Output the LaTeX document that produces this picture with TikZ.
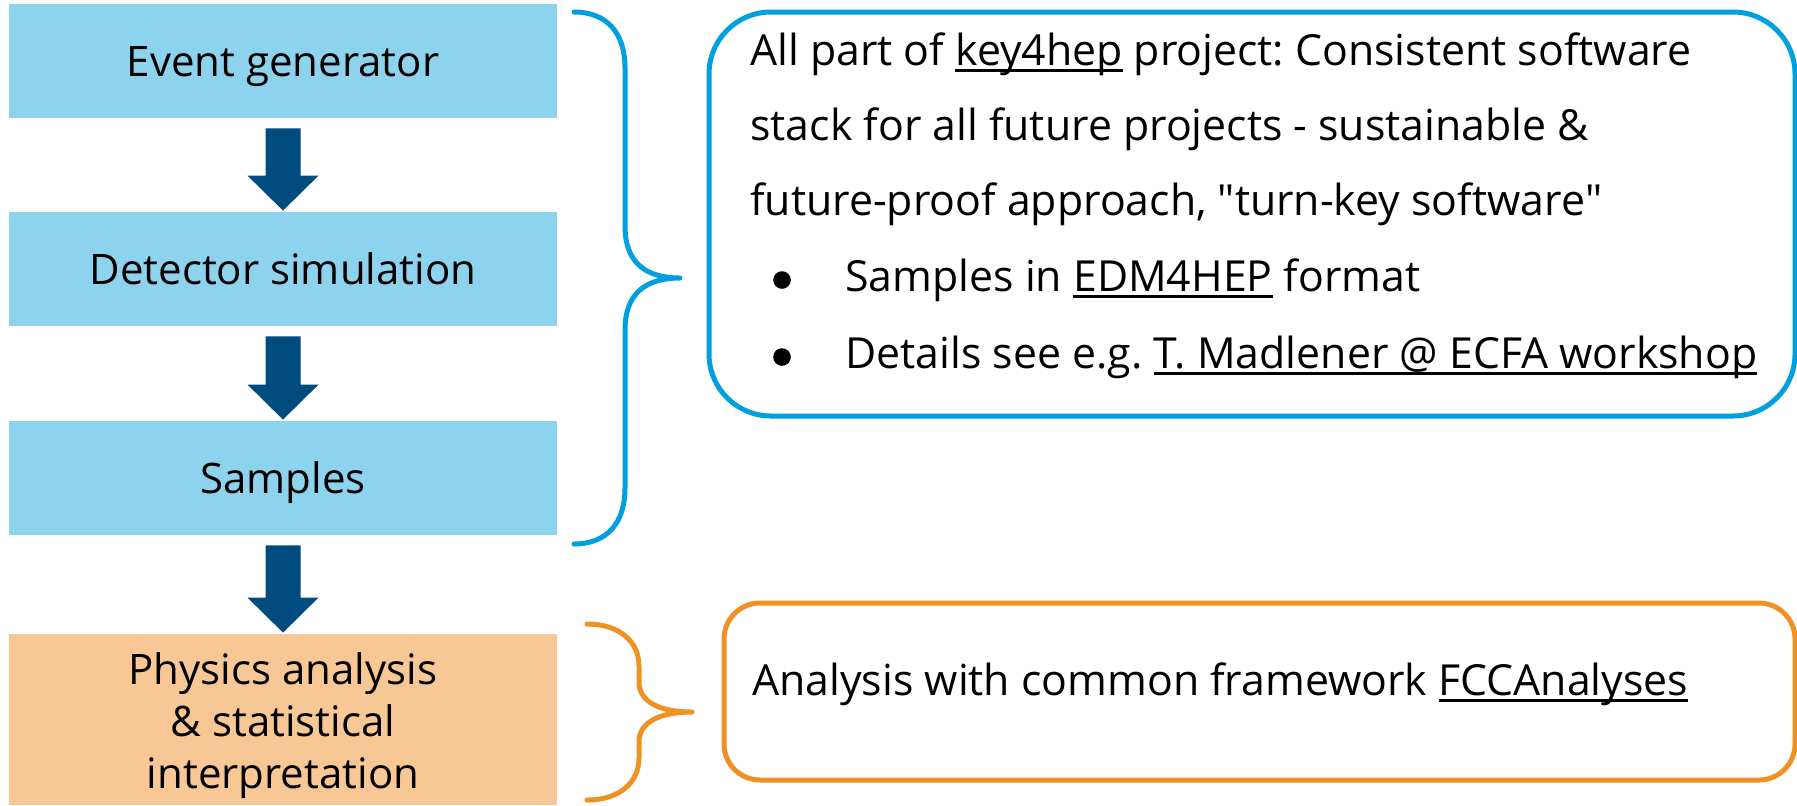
\documentclass[tikz,border=0pt]{standalone}
\usepackage{fontspec}
\setmainfont{Open Sans}
\usetikzlibrary{calc}
\definecolor{boxblue}{HTML}{8DD3EE}
\definecolor{arrowblue}{HTML}{004C7E}
\definecolor{boxorange}{HTML}{F7C796}
\definecolor{lineblue}{HTML}{009FDF}
\definecolor{lineorange}{HTML}{F09124}
\newcommand\myul[1]{\setbox0\hbox{#1}\rlap{\rule[-3.4pt]{\wd0}{1.6pt}}\box0\relax}
\frenchspacing
\tikzset{
  x=0.5pt, y=-0.5pt,
  bigfont/.style={font=\fontsize{21}{26}\selectfont\frenchspacing},
  rightfont/.style={font=\fontsize{21.4}{26}\selectfont\frenchspacing},
  stepbox/.style={draw=none, inner sep=0pt, minimum width=274pt, minimum height=57pt,
     bigfont, text height=15pt, text depth=0pt, align=center},
  blockarrow/.style={fill=arrowblue},
  bracestyle/.style={line width=2.5pt, line cap=round, line join=round},
  infobox/.style={draw, line width=2.5pt, inner sep=0pt},
  infotext/.style={rightfont, anchor=base west, inner sep=0pt},
}
\begin{document}
\begin{tikzpicture}
\useasboundingbox (0,0) rectangle (1797,805);
% left flow boxes
\node[stepbox, fill=boxblue] (b1) at (283,61) {Event generator};
\node[stepbox, fill=boxblue] (b2) at (283,269) {Detector simulation};
\node[stepbox, fill=boxblue] (b3) at (283,478) {Samples};
\node[draw=none, fill=boxorange, inner sep=0pt, minimum width=274pt, minimum height=85.5pt] (b4) at (283,719.5) {};
\node[bigfont, align=center, inner sep=0pt] (b4t) at ($(b4.center)+(0,6)$) {Physics analysis\\ \& statistical\\ interpretation};
% block arrows
\foreach \a/\b in {b1/b2, b2/b3, b3/b4}{
  \fill[blockarrow] ($(\a.south)+(-17.5,10)$) -- ($(\a.south)+(17.5,10)$)
     -- ($(\b.north)+(17.5,-36)$) -- ($(\b.north)+(35.5,-36)$) -- ($(\b.north)+(0,-1)$)
     -- ($(\b.north)+(-35.5,-36)$) -- ($(\b.north)+(-17.5,-36)$) -- cycle;
}
% blue brace
\draw[bracestyle, lineblue] (574,12) .. controls (606,12) and (625,32) .. (625,68) -- (625,226)
  .. controls (625,262) and (645,278) .. (680,278)
  .. controls (645,278) and (625,294) .. (625,330) -- (625,488)
  .. controls (625,524) and (606,544) .. (574,544);
% orange brace
\draw[bracestyle, lineorange] (587,624) .. controls (620,624) and (639,642) .. (639,666) -- (639,682)
  .. controls (639,702) and (660,712) .. (692,712)
  .. controls (660,712) and (639,722) .. (639,742) -- (639,758)
  .. controls (639,782) and (620,800) .. (587,800);
% right info boxes
\node[infobox, draw=lineblue, rounded corners=31pt, minimum width=543pt, minimum height=202pt] (i1) at (1252,214) {};
\node[infobox, draw=lineorange, rounded corners=18pt, minimum width=535.5pt, minimum height=88.5pt] (i2) at (1259.5,691.5) {};
% texts in blue info box
\node[infotext] (l1) at (750,65) {All part of \myul{key4hep} project: Consistent software};
\node[infotext] (l2) at (750,140) {stack for all future projects - sustainable \&};
\node[infotext] (l3) at (750,215) {future-proof approach, \textquotedbl turn-key software\textquotedbl};
\node[infotext] (l4) at (845,291) {Samples in \myul{EDM4HEP} format};
\node[infotext] (l5) at (845,368) {Details see e.g. \myul{T. Madlener @ ECFA workshop}};
\fill (782,280) circle[radius=4.4pt];
\fill (782,357) circle[radius=4.4pt];
% text in orange info box
\node[infotext] (o1) at (752,695) {Analysis with common framework \myul{FCCAnalyses}};
\end{tikzpicture}
\end{document}
